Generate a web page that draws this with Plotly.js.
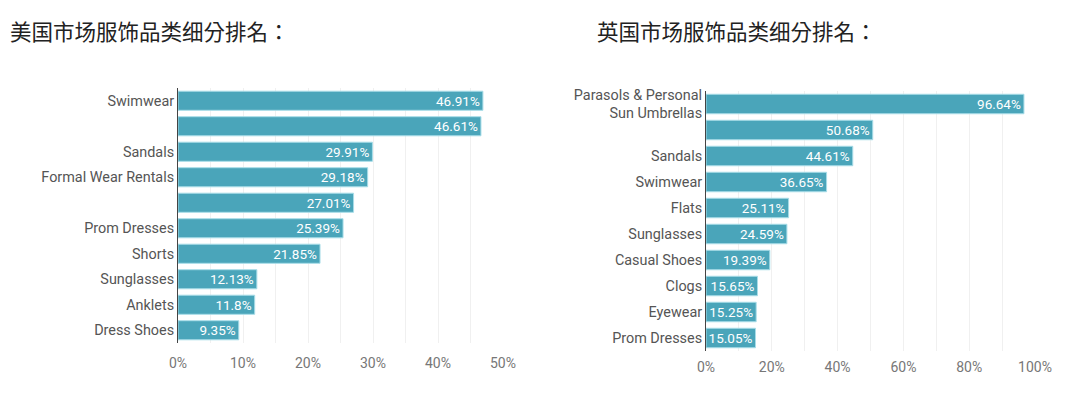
<!DOCTYPE html>
<html>
<head>
<meta charset="utf-8">
<script src="https://cdn.plot.ly/plotly-3.0.1.min.js"></script>
<style>html,body{margin:0;padding:0;background:#fff;}#chart{width:1080px;height:397px;}</style>
</head>
<body>
<div id="chart"></div>
<script>
const usCategories = ["Swimwear", "", "Sandals", "Formal Wear Rentals", "", "Prom Dresses", "Shorts", "Sunglasses", "Anklets", "Dress Shoes"];
const usValues = [46.91, 46.61, 29.91, 29.18, 27.01, 25.39, 21.85, 12.13, 11.8, 9.35];
const ukCategories = ["Parasols & Personal<br>Sun Umbrellas", "", "Sandals", "Swimwear", "Flats", "Sunglasses", "Casual Shoes", "Clogs", "Eyewear", "Prom Dresses"];
const ukValues = [96.64, 50.68, 44.61, 36.65, 25.11, 24.59, 19.39, 15.65, 15.25, 15.05];
const usTitle = "美国市场服饰品类细分排名：";
const ukTitle = "英国市场服饰品类细分排名：";
const usTicks = [0, 10, 20, 30, 40, 50];
const ukTicks = [0, 20, 40, 60, 80, 100];

const barColor = "#4aa5ba";
const font = "Roboto, 'Noto Sans', sans-serif";

function idx(arr){ return arr.map((_, i) => i); }

function barTrace(values, cats, xa, ya){
  return {
    type: "bar", orientation: "h",
    x: values, y: idx(cats),
    xaxis: xa, yaxis: ya,
    marker: {color: barColor, line: {color: "#a8dde8", width: 1}},
    text: values.map(v => v + "%"), textposition: "inside", insidetextanchor: "end",
    constraintext: "none",
    textfont: {color: "#ffffff", size: 13.5, family: font},
    hoverinfo: "none", cliponaxis: false
  };
}

const traces = [
  barTrace(usValues, usCategories, "x", "y"),
  barTrace(ukValues, ukCategories, "x2", "y2")
];

const axisX = (domain, range, ticks, minorStep, tlen) => ({
  domain: domain, range: range, tickvals: ticks, ticktext: ticks.map(t => t + "%"),
  showgrid: true, gridcolor: "#f0f0f0", gridwidth: 1,
  minor: {dtick: minorStep, showgrid: true, gridcolor: "#f0f0f0", gridwidth: 1, tick0: 0},
  zeroline: false, showline: false,
  ticks: "outside", ticklen: tlen, tickcolor: "rgba(0,0,0,0)",
  tickfont: {size: 14, color: "#777777", family: font},
  fixedrange: true
});

const axisY = (domain, cats, anchor) => ({
  domain: domain, anchor: anchor,
  tickvals: idx(cats), ticktext: cats,
  range: [cats.length - 0.5, -0.5],
  showgrid: false, zeroline: false,
  showline: true, linecolor: "#444444", linewidth: 1,
  ticks: "",
  tickfont: {size: 14.4, color: "#555555", family: font},
  fixedrange: true
});

const layout = {
  width: 1080, height: 397,
  margin: {l: 0, r: 0, t: 0, b: 0},
  paper_bgcolor: "#ffffff", plot_bgcolor: "#ffffff",
  showlegend: false, bargap: 0.25,
  xaxis: Object.assign(axisX([178/1080, 503/1080], [0, 50], usTicks, 5, 7), {anchor: "y"}),
  yaxis: axisY([(397-343)/397, (397-88)/397], usCategories, "x"),
  xaxis2: Object.assign(axisX([706/1080, 1035/1080], [0, 100], ukTicks, 10, 3), {anchor: "y2"}),
  yaxis2: axisY([(397-351)/397, (397-91)/397], ukCategories, "x2"),
  annotations: [
    {text: usTitle, xref: "paper", yref: "paper", x: 8/1080, y: 1 - 30/397,
     xanchor: "left", yanchor: "middle", showarrow: false,
     font: {size: 21.5, color: "#222222", family: "'Noto Sans CJK TC', 'Noto Sans CJK SC', sans-serif"}},
    {text: ukTitle, xref: "paper", yref: "paper", x: 595/1080, y: 1 - 30/397,
     xanchor: "left", yanchor: "middle", showarrow: false,
     font: {size: 21.5, color: "#222222", family: "'Noto Sans CJK TC', 'Noto Sans CJK SC', sans-serif"}}
  ]
};

Plotly.newPlot("chart", traces, layout, {displayModeBar: false, staticPlot: true});
</script>
</body>
</html>
